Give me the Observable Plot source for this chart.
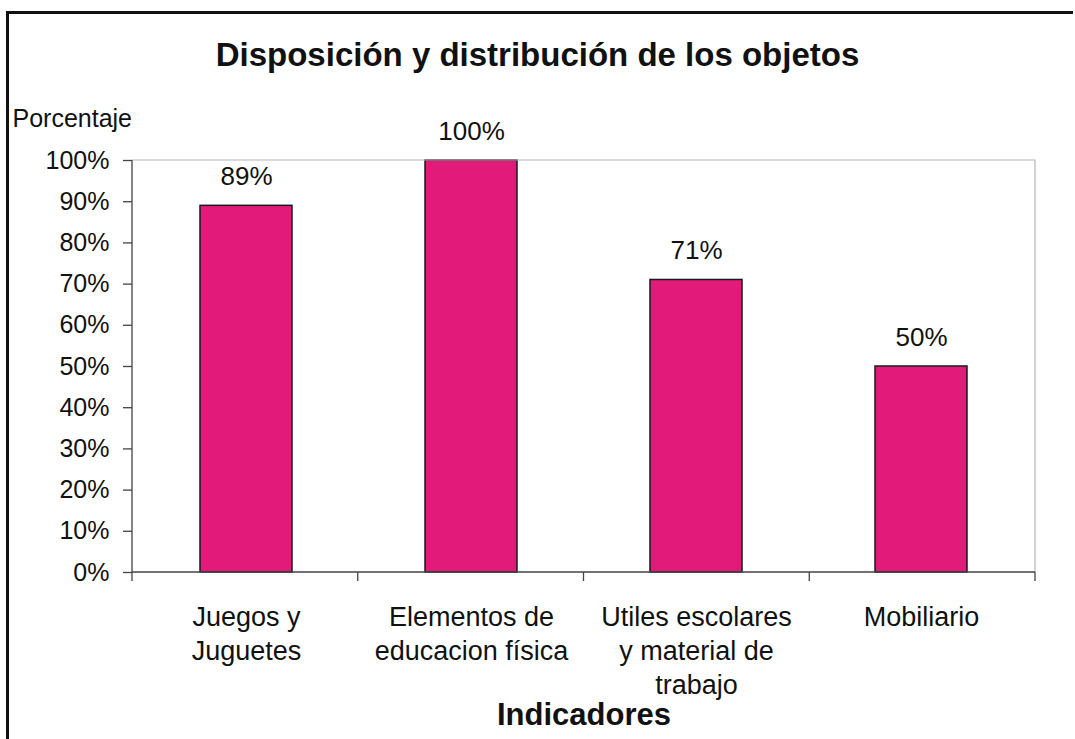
<!DOCTYPE html>
<html><head><meta charset="utf-8">
<script src="https://cdn.jsdelivr.net/npm/d3@7"></script>
<script src="https://cdn.jsdelivr.net/npm/@observablehq/plot@0.6"></script>
<style>
body{margin:0;background:#fff;}
#wrap{position:relative;width:1075px;height:739px;overflow:hidden;background:#fff;font-family:"Liberation Sans",Arial,sans-serif;}
#frame{position:absolute;left:6px;top:11px;width:1064px;height:760px;border-left:3px solid #111;border-top:3px solid #111;}
#title{position:absolute;left:0;top:35px;width:1075px;text-align:center;font-weight:bold;font-size:33px;line-height:40px;color:#111;}
#chart{position:absolute;left:0;top:100px;}
</style></head>
<body><div id="wrap"><div id="frame"></div><div id="title"></div><div id="chart"></div></div>
<script>
const title = "Disposición y distribución de los objetos";
const categories = ["Juegos y Juguetes", "Elementos de educacion física", "Utiles escolares y material de trabajo", "Mobiliario"];
const tickLabels = ["Juegos y\nJuguetes", "Elementos de\neducacion física", "Utiles escolares\ny material de\ntrabajo", "Mobiliario"];
const values = [0.89, 1.00, 0.71, 0.50];
const yTicks = [0, 0.1, 0.2, 0.3, 0.4, 0.5, 0.6, 0.7, 0.8, 0.9, 1.0];
const yLabel = "Porcentaje";
const xLabel = "Indicadores";
const barColor = "#e21b7b";

document.getElementById("title").textContent = title;

const data = categories.map((c, i) => ({cat: c, value: values[i], label: tickLabels[i]}));
const pct = d3.format(".0%");

function frameLines(index, scales, vals, dims) {
  const {width, height, marginLeft: ml, marginRight: mr, marginTop: mt, marginBottom: mb} = dims;
  const x0 = ml, x1 = width - mr, y0 = mt, y1 = height - mb;
  const n = categories.length;
  const step = (x1 - x0) / n;
  const g = d3.create("svg:g");
  g.append("path").attr("d", `M${x0},${y0}H${x1}V${y1}`)
    .attr("fill", "none").attr("stroke", "#b5b5b5").attr("stroke-width", 1.2);
  g.append("path").attr("d", `M${x0},${y0}V${y1}H${x1}`)
    .attr("fill", "none").attr("stroke", "#444").attr("stroke-width", 1.3);
  for (let i = 0; i <= n; i++) {
    g.append("line").attr("x1", x0 + i * step).attr("x2", x0 + i * step)
      .attr("y1", y1).attr("y2", y1 + 9).attr("stroke", "#444").attr("stroke-width", 1.3);
  }
  return g.node();
}

const chart = Plot.plot({
  width: 1075,
  height: 639,
  marginTop: 60,
  marginBottom: 167,
  marginLeft: 132,
  marginRight: 40,
  style: {fontFamily: "'Liberation Sans', Arial, sans-serif", fontSize: "25px", color: "#111", background: "transparent"},
  x: {domain: categories, paddingInner: 0.59, paddingOuter: 0.295, axis: null},
  y: {domain: [0, 1], axis: null},
  marks: [
    Plot.barY(data, {x: "cat", y: "value", fill: barColor, stroke: "#1a1a1a", strokeWidth: 1.5}),
    frameLines,
    Plot.axisY({ticks: yTicks, tickFormat: pct, tickSize: 9, tickPadding: 14, fontSize: 25, stroke: "#444", strokeWidth: 1.3, label: null}),
    Plot.text(data, {x: "cat", y: "value", text: d => pct(d.value), dy: -29, fontSize: 26}),
    Plot.text(data, {x: "cat", y: () => 0, text: "label", lineAnchor: "top", dy: 29, fontSize: 27, lineHeight: 1.26}),
    Plot.text([yLabel], {frameAnchor: "top-left", text: d => d, dx: -120, dy: -42, textAnchor: "start", lineAnchor: "middle", fontSize: 25}),
    Plot.text([xLabel], {frameAnchor: "bottom", text: d => d, dy: 143, lineAnchor: "middle", fontSize: 31, fontWeight: "bold"})
  ]
});
document.getElementById("chart").appendChild(chart);
</script>
</body></html>
